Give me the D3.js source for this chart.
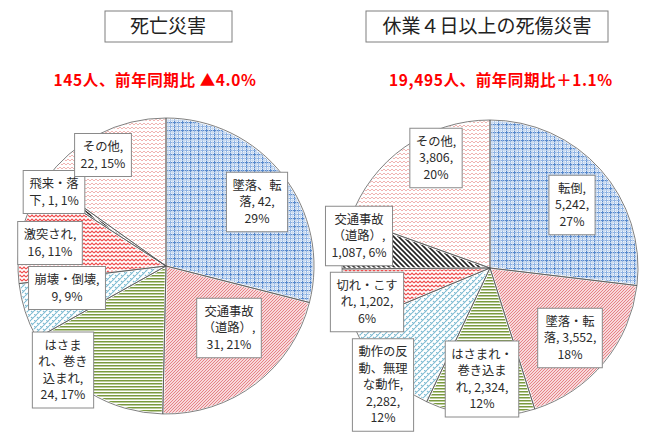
<!DOCTYPE html>
<html><head><meta charset="utf-8">
<script src="https://cdn.jsdelivr.net/npm/d3@7"></script>
<style>
html,body{margin:0;padding:0;background:#fff;}
svg{display:block;font-family:"Noto Sans CJK JP","Noto Sans",sans-serif;}
</style></head>
<body>
<svg id="chart" width="654" height="437"></svg>
<script>
// ---------- data ----------
const leftTitle = "死亡災害";
const leftSubtitle = "145人、前年同期比 ▲4.0%";
const leftCategories = ["墜落、転落","交通事故（道路）","はさまれ、巻き込まれ","崩壊・倒壊","激突され","飛来・落下","その他"];
const leftValues = [42,31,24,9,16,1,22];
const leftLabels = [["墜落、転","落, 42,","29%"],["交通事故","（道路）,","31, 21%"],["はさま","れ、巻き","込まれ,","24, 17%"],["崩壊・倒壊,","9, 9%"],["激突され,","16, 11%"],["飛来・落","下, 1, 1%"],["その他,","22, 15%"]];

const rightTitle = "休業４日以上の死傷災害";
const rightSubtitle = "19,495人、前年同期比＋1.1%";
const rightCategories = ["転倒","墜落・転落","はさまれ・巻き込まれ","動作の反動、無理な動作","切れ・こすれ","交通事故（道路）","その他"];
const rightValues = [5242,3552,2324,2282,1202,1087,3806];
const rightLabels = [["転倒,","5,242,","27%"],["墜落・転","落, 3,552,","18%"],["はさまれ・","巻き込ま","れ, 2,324,","12%"],["動作の反","動、無理","な動作,","2,282,","12%"],["切れ・こす","れ, 1,202,","6%"],["交通事故","（道路）,","1,087, 6%"],["その他,","3,806,","20%"]];

// ---------- layout ----------
const R = 148;
const leftCenter = [166, 266];
const rightCenter = [490, 268];
// label centre offsets relative to pie centre (px)
const leftLabelOffsets = [[91,-64],[63,62],[-103,104],[-99,22],[-116,-23],[-112,-74],[-63,-111]];
const rightLabelOffsets = [[82,-63],[80,70],[-8,111],[-107,117],[-123,34],[-131,-32],[-54,-110]];
const patternIds = ["pGrid","pRedDiag","pGreen","pCyan","pRedZig","pBlack","pPink"];

const svg = d3.select("#chart");
const defs = svg.append("defs");

function pat(id, w, h){
  return defs.append("pattern").attr("id",id).attr("patternUnits","userSpaceOnUse").attr("width",w).attr("height",h);
}
// blue plaid grid
{const p = pat("pGrid",8,8);
 p.append("rect").attr("width",8).attr("height",8).attr("fill","#eef4fb");
 p.append("rect").attr("x",0).attr("y",0).attr("width",1.2).attr("height",8).attr("fill","#5688cc");
 p.append("rect").attr("x",0).attr("y",0).attr("width",8).attr("height",1.2).attr("fill","#5688cc");
 p.append("rect").attr("x",4).attr("y",0).attr("width",1).attr("height",8).attr("fill","#8fb3e3");
 p.append("rect").attr("x",0).attr("y",4).attr("width",8).attr("height",1).attr("fill","#8fb3e3");
 p.append("rect").attr("x",2).attr("y",0).attr("width",0.8).attr("height",8).attr("fill","#c5d8f0");
 p.append("rect").attr("x",6).attr("y",0).attr("width",0.8).attr("height",8).attr("fill","#c5d8f0");
 p.append("rect").attr("x",0).attr("y",2).attr("width",8).attr("height",0.8).attr("fill","#c5d8f0");
 p.append("rect").attr("x",0).attr("y",6).attr("width",8).attr("height",0.8).attr("fill","#c5d8f0");}
// red diagonal ////
{const p = pat("pRedDiag",3,3);
 p.append("rect").attr("width",3).attr("height",3).attr("fill","#fff");
 p.append("path").attr("d","M-1,1 L1,-1 M0,3 L3,0 M2,4 L4,2").attr("stroke","#e57b80").attr("stroke-width",1.1);}
// green horizontal
{const p = pat("pGreen",4,3);
 p.append("rect").attr("width",4).attr("height",3).attr("fill","#fff");
 p.append("rect").attr("y",0).attr("width",4).attr("height",1.5).attr("fill","#7a9a3e");}
// cyan weave
{const p = pat("pCyan",6,6);
 p.append("rect").attr("width",6).attr("height",6).attr("fill","#fff");
 p.append("path").attr("d","M0,3 L3,0 M3,6 L6,3 M3,3 L4.5,4.5 M0,0 L1.5,1.5").attr("stroke","#7fbcd3").attr("stroke-width",1.1).attr("fill","none");}
// red zigzag
{const p = pat("pRedZig",4,4);
 p.append("rect").attr("width",4).attr("height",4).attr("fill","#fff");
 p.append("path").attr("d","M0,3 L2,1 L4,3").attr("stroke","#ef4a4a").attr("stroke-width",1.1).attr("fill","none");}
// black diagonal \\\\
{const p = pat("pBlack",5,5);
 p.append("rect").attr("width",5).attr("height",5).attr("fill","#fff");
 p.append("path").attr("d","M-1,-1 L6,6 M-1,4 L1,6 M4,-1 L6,1").attr("stroke","#222").attr("stroke-width",1.6);}
// pink wave
{const p = pat("pPink",4,4);
 p.append("rect").attr("width",4).attr("height",4).attr("fill","#fff");
 p.append("path").attr("d","M0,3 L2,1 L4,3").attr("stroke","#f0b4b2").attr("stroke-width",1).attr("fill","none");}

const pie = d3.pie().sort(null).value(d => d);
const arc = d3.arc().innerRadius(0).outerRadius(R);

function drawPie(center, values, labels, offsets, title, subtitle, titleCx, titleBox, subCx){
  const g = svg.append("g").attr("transform", `translate(${center[0]},${center[1]})`);
  const arcs = pie(values);
  g.selectAll("path.slice").data(arcs).join("path").attr("class","slice")
    .attr("d", arc).attr("fill",(d,i)=>`url(#${patternIds[i]})`)
    .attr("stroke","#fff").attr("stroke-width",2.2).attr("stroke-linejoin","round");
  g.selectAll("path.edge").data(arcs).join("path").attr("class","edge")
    .attr("d", arc).attr("fill","none").attr("stroke","#555").attr("stroke-width",0.75);

  // labels
  const lh = 16.5;
  arcs.forEach((a,i)=>{
    const lines = labels[i];
    const lg = g.append("g").attr("transform",`translate(${offsets[i][0]},${offsets[i][1]})`);
    const rect = lg.append("rect").attr("fill","#fff").attr("stroke","#8a8a8a").attr("stroke-width",1);
    const t = lg.append("text").attr("text-anchor","middle").attr("font-size",12.3).attr("fill","#2b2b2b");
    lines.forEach((ln,j)=>{
      t.append("tspan").attr("x",0).attr("y",(j-(lines.length-1)/2)*lh).attr("dy","0.36em").text(ln);
    });
    const bb = t.node().getBBox();
    const px=6, py=5;
    rect.attr("x",bb.x-px).attr("y",-(lines.length*lh)/2-py).attr("width",bb.width+2*px).attr("height",lines.length*lh+2*py);
  });

  // title box
  const tg = svg.append("g");
  tg.append("rect").attr("x",titleBox[0]).attr("y",titleBox[1]).attr("width",titleBox[2]).attr("height",titleBox[3])
    .attr("fill","#fff").attr("stroke","#7f7f7f").attr("stroke-width",1);
  tg.append("text").attr("x",titleCx).attr("y",titleBox[1]+titleBox[3]/2).attr("dy","0.36em")
    .attr("text-anchor","middle").attr("font-size",19).attr("fill","#222").text(title);
  svg.append("text").attr("x",subCx).attr("y",80).attr("dy","0.36em").attr("text-anchor","middle")
    .attr("font-size",15.5).attr("font-weight","bold").attr("letter-spacing",0.6).attr("fill","#ff0000").text(subtitle);
}

drawPie(leftCenter, leftValues, leftLabels, leftLabelOffsets, leftTitle, leftSubtitle, 168, [105,11,127,31], 155);
drawPie(rightCenter, rightValues, rightLabels, rightLabelOffsets, rightTitle, rightSubtitle, 487, [366,11,242,31], 501);
</script>
</body></html>
